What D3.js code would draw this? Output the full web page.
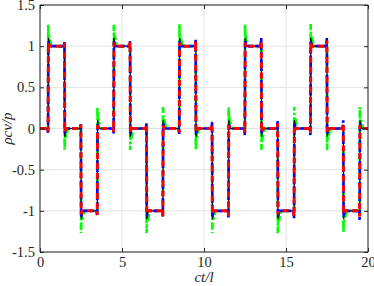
<!DOCTYPE html>
<html><head><meta charset="utf-8">
<script src="https://cdn.jsdelivr.net/npm/d3@7"></script>
<style>
html,body{margin:0;padding:0;background:#fff;}
svg{display:block;}
text{font-family:"Liberation Serif","DejaVu Serif",serif;fill:#262626;}
</style></head>
<body>
<svg id="c" width="374" height="286"></svg>
<script>
const xTicks = [0, 5, 10, 15, 20];
const yTicks = [-1.5, -1, -0.5, 0, 0.5, 1, 1.5];
const yTickLabels = ["-1.5", "-1", "-0.5", "0", "0.5", "1", "1.5"];
const xLabel = "ct/l";
const yLabel = "\u03C1cv/p";

const greenSeries = [
[0,0],
[0.5,0],[0.5,1.26],[0.54,1.04],[0.57,1.12],[0.7,1],
[1.5,1],[1.5,-0.26],[1.54,-0.04],[1.57,-0.12],[1.7,0],
[2.5,0],[2.5,-1.27],[2.54,-1.04],[2.57,-1.12],[2.7,-1],
[3.5,-1],[3.5,0.26],[3.54,0.04],[3.57,0.12],[3.7,0],
[4.5,0],[4.5,1.26],[4.54,1.04],[4.57,1.12],[4.7,1],
[5.5,1],[5.5,-0.26],[5.54,-0.04],[5.57,-0.12],[5.7,0],
[6.5,0],[6.5,-1.27],[6.54,-1.04],[6.57,-1.12],[6.7,-1],
[7.5,-1],[7.5,0.26],[7.54,0.04],[7.57,0.12],[7.7,0],
[8.5,0],[8.5,1.27],[8.54,1.04],[8.57,1.12],[8.7,1],
[9.5,1],[9.5,-0.26],[9.54,-0.04],[9.57,-0.12],[9.7,0],
[10.5,0],[10.5,-1.27],[10.54,-1.04],[10.57,-1.12],[10.7,-1],
[11.5,-1],[11.5,0.26],[11.54,0.04],[11.57,0.12],[11.7,0],
[12.5,0],[12.5,1.27],[12.54,1.04],[12.57,1.12],[12.7,1],
[13.5,1],[13.5,-0.26],[13.54,-0.04],[13.57,-0.12],[13.7,0],
[14.5,0],[14.5,-1.27],[14.54,-1.04],[14.57,-1.12],[14.7,-1],
[15.5,-1],[15.5,0.26],[15.54,0.04],[15.57,0.12],[15.7,0],
[16.5,0],[16.5,1.27],[16.54,1.04],[16.57,1.12],[16.7,1],
[17.5,1],[17.5,-0.26],[17.54,-0.04],[17.57,-0.12],[17.7,0],
[18.5,0],[18.5,-1.27],[18.54,-1.04],[18.57,-1.12],[18.7,-1],
[19.5,-1],[19.5,0.26],[19.54,0.04],[19.57,0.12],[19.7,0],
[20,0]
];

const blackSeries = [
[0,0],
[0.47,0],[0.5,-0.03],[0.51,1.1],[0.6,1],
[1.47,1],[1.5,1.03],[1.51,-0.1],[1.6,0],
[2.47,0],[2.5,0.03],[2.51,-1.1],[2.6,-1],
[3.47,-1],[3.5,-1.03],[3.51,0.1],[3.6,0],
[4.47,0],[4.5,-0.03],[4.51,1.1],[4.6,1],
[5.47,1],[5.5,1.03],[5.51,-0.1],[5.6,0],
[6.47,0],[6.5,0.03],[6.51,-1.1],[6.6,-1],
[7.47,-1],[7.5,-1.03],[7.51,0.1],[7.6,0],
[8.47,0],[8.5,-0.03],[8.51,1.1],[8.6,1],
[9.47,1],[9.5,1.03],[9.51,-0.1],[9.6,0],
[10.47,0],[10.5,0.03],[10.51,-1.1],[10.6,-1],
[11.47,-1],[11.5,-1.03],[11.51,0.1],[11.6,0],
[12.47,0],[12.5,-0.03],[12.51,1.1],[12.6,1],
[13.47,1],[13.5,1.03],[13.51,-0.1],[13.6,0],
[14.47,0],[14.5,0.03],[14.51,-1.1],[14.6,-1],
[15.47,-1],[15.5,-1.03],[15.51,0.1],[15.6,0],
[16.47,0],[16.5,-0.03],[16.51,1.1],[16.6,1],
[17.47,1],[17.5,1.03],[17.51,-0.1],[17.6,0],
[18.47,0],[18.5,0.03],[18.51,-1.1],[18.6,-1],
[19.47,-1],[19.5,-1.03],[19.51,0.1],[19.6,0],
[20,0]
];

const blueSeries = [
[0,0],
[0.46,0],[0.49,-0.06],[0.51,1.06],[0.58,1],
[1.46,1],[1.49,1.05],[1.51,-0.06],[1.58,0],
[2.46,0],[2.49,0.06],[2.51,-1.07],[2.58,-1],
[3.46,-1],[3.49,-1.06],[3.51,0.06],[3.58,0],
[4.46,0],[4.49,-0.06],[4.51,1.06],[4.58,1],
[5.46,1],[5.49,1.06],[5.51,-0.06],[5.58,0],
[6.46,0],[6.49,0.07],[6.51,-1.07],[6.58,-1],
[7.46,-1],[7.49,-1.07],[7.51,0.06],[7.58,0],
[8.46,0],[8.49,-0.07],[8.51,1.06],[8.58,1],
[9.46,1],[9.49,1.08],[9.51,-0.06],[9.58,0],
[10.46,0],[10.49,0.08],[10.51,-1.07],[10.58,-1],
[11.46,-1],[11.49,-1.08],[11.51,0.06],[11.58,0],
[12.46,0],[12.49,-0.08],[12.51,1.06],[12.58,1],
[13.46,1],[13.49,1.1],[13.51,-0.06],[13.58,0],
[14.46,0],[14.49,0.09],[14.51,-1.07],[14.58,-1],
[15.46,-1],[15.49,-1.09],[15.51,0.06],[15.58,0],
[16.46,0],[16.49,-0.08],[16.51,1.06],[16.58,1],
[17.46,1],[17.49,1.1],[17.51,-0.06],[17.58,0],
[18.46,0],[18.49,0.1],[18.51,-1.07],[18.58,-1],
[19.46,-1],[19.49,-1.11],[19.51,0.06],[19.58,0],
[20,0]
];

const redSeries = [
[0,0],
[0.45,0],[0.49,-0.04],[0.51,1.04],[0.56,1],
[1.45,1],[1.49,1.04],[1.51,-0.04],[1.56,0],
[2.45,0],[2.49,0.05],[2.51,-1.04],[2.56,-1],
[3.45,-1],[3.49,-1.05],[3.51,0.04],[3.56,0],
[4.45,0],[4.49,-0.04],[4.51,1.04],[4.56,1],
[5.45,1],[5.49,1.05],[5.51,-0.04],[5.56,0],
[6.45,0],[6.49,0.05],[6.51,-1.04],[6.56,-1],
[7.45,-1],[7.49,-1.06],[7.51,0.04],[7.56,0],
[8.45,0],[8.49,-0.05],[8.51,1.04],[8.56,1],
[9.45,1],[9.49,1.06],[9.51,-0.04],[9.56,0],
[10.45,0],[10.49,0.05],[10.51,-1.04],[10.56,-1],
[11.45,-1],[11.49,-1.06],[11.51,0.04],[11.56,0],
[12.45,0],[12.49,-0.05],[12.51,1.04],[12.56,1],
[13.45,1],[13.49,1.07],[13.51,-0.04],[13.56,0],
[14.45,0],[14.49,0.06],[14.51,-1.04],[14.56,-1],
[15.45,-1],[15.49,-1.07],[15.51,0.04],[15.56,0],
[16.45,0],[16.49,-0.05],[16.51,1.04],[16.56,1],
[17.45,1],[17.49,1.07],[17.51,-0.04],[17.56,0],
[18.45,0],[18.49,0.06],[18.51,-1.04],[18.56,-1],
[19.45,-1],[19.49,-1.07],[19.51,0.04],[19.56,0],
[20,0]
];

const svg = d3.select("#c");
const L = 40, R = 368, T = 5, B = 252;
const x = d3.scaleLinear().domain([0, 20]).range([L, R]);
const y = d3.scaleLinear().domain([-1.5, 1.5]).range([B, T]);

// grid
const grid = svg.append("g");
grid.selectAll(".gx").data(xTicks).enter().append("line")
  .attr("x1", d => x(d)).attr("x2", d => x(d)).attr("y1", T).attr("y2", B)
  .attr("stroke", "#e3e3e3").attr("stroke-width", 1);
grid.selectAll(".gy").data(yTicks).enter().append("line")
  .attr("x1", L).attr("x2", R).attr("y1", d => y(d)).attr("y2", d => y(d))
  .attr("stroke", "#e3e3e3").attr("stroke-width", 1);

// clip
svg.append("clipPath").attr("id", "clip").append("rect")
  .attr("x", L).attr("y", T).attr("width", R - L).attr("height", B - T);
const plot = svg.append("g").attr("clip-path", "url(#clip)");
const line = d3.line().x(d => x(d[0])).y(d => y(d[1]));

plot.append("path").datum(greenSeries).attr("d", line)
  .attr("fill", "none").attr("stroke", "#00ff00").attr("stroke-width", 2.6)
  .attr("stroke-dasharray", "7,2.5,2,2.5");
plot.append("path").datum(blackSeries).attr("d", line)
  .attr("fill", "none").attr("stroke", "#000").attr("stroke-width", 1.2);
plot.append("path").datum(blueSeries).attr("d", line)
  .attr("fill", "none").attr("stroke", "#0000ff").attr("stroke-width", 2.6)
  .attr("stroke-dasharray", "5,2");
plot.append("path").datum(redSeries).attr("d", line)
  .attr("fill", "none").attr("stroke", "#ff0000").attr("stroke-width", 3)
  .attr("stroke-dasharray", "6,4");

// axes box
const ax = "#262626";
const xAxisB = d3.axisBottom(x).tickValues(xTicks).tickSize(-4).tickPadding(5).tickFormat(d3.format("d"));
const xAxisT = d3.axisTop(x).tickValues(xTicks).tickSize(-4).tickFormat("");
const yAxisL = d3.axisLeft(y).tickValues(yTicks).tickSize(-4).tickPadding(5).tickFormat((d, i) => yTickLabels[i]);
const yAxisR = d3.axisRight(y).tickValues(yTicks).tickSize(-4).tickFormat("");
function style(g) {
  g.select(".domain").attr("stroke", ax).attr("stroke-width", 1);
  g.selectAll(".tick line").attr("stroke", ax).attr("stroke-width", 1);
  g.selectAll("text").attr("font-size", "14.5px").attr("fill", ax)
    .style("font-family", '"Liberation Serif", serif');
}
svg.append("g").attr("transform", `translate(0,${B})`).call(xAxisB).call(style)
  .call(g => g.select(".domain").attr("d", `M${L},0H${R}`));
svg.append("g").attr("transform", `translate(0,${T})`).call(xAxisT).call(style)
  .call(g => g.select(".domain").attr("d", `M${L},0H${R}`));
svg.append("g").attr("transform", `translate(${L},0)`).call(yAxisL).call(style)
  .call(g => g.select(".domain").attr("d", `M0,${T}V${B}`));
svg.append("g").attr("transform", `translate(${R},0)`).call(yAxisR).call(style)
  .call(g => g.select(".domain").attr("d", `M0,${T}V${B}`));

svg.append("text").attr("x", (L + R) / 2).attr("y", 282).attr("text-anchor", "middle")
  .attr("font-size", "15px").attr("font-style", "italic").text(xLabel);
svg.append("text").attr("transform", `translate(12,${(T + B) / 2}) rotate(-90)`)
  .attr("text-anchor", "middle").attr("font-size", "15px").attr("font-style", "italic").text(yLabel);
</script>
</body></html>
